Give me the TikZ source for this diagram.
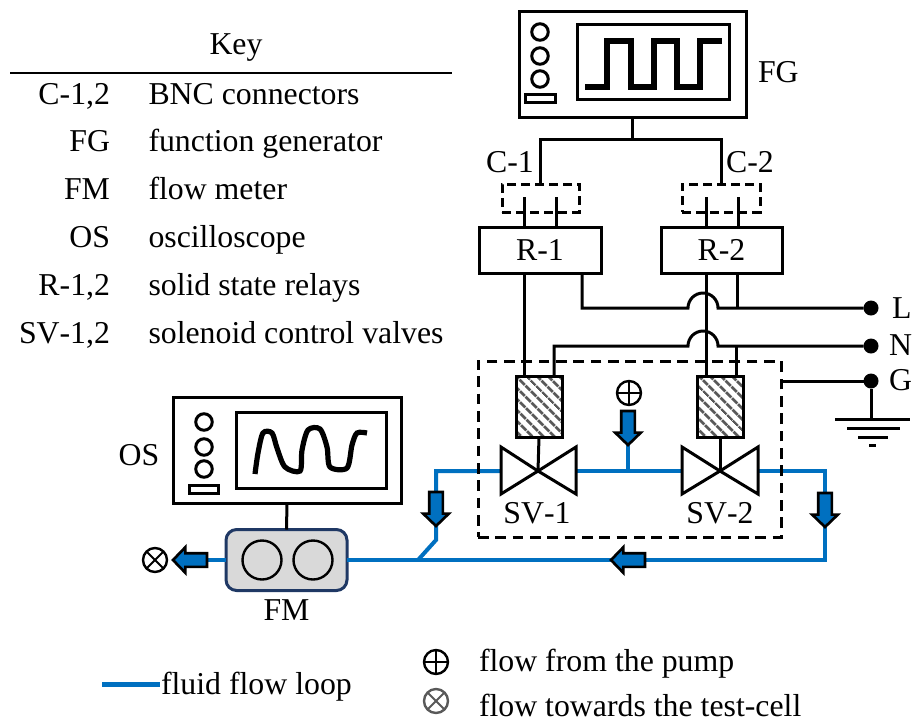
\documentclass[tikz,border=0pt]{standalone}
\usepackage{fontspec}
\setmainfont[Kerning=Off]{Liberation Serif}
\usetikzlibrary{positioning,calc}
\usetikzlibrary{shapes.arrows}
\usetikzlibrary{patterns.meta}
\definecolor{flowblue}{HTML}{0070C0}
\definecolor{fmedge}{HTML}{1F3864}
\definecolor{fmfill}{HTML}{D9D9D9}
\tikzset{
   every node/.style={font=\fontsize{23.85}{28}\selectfont,inner sep=0pt,outer sep=0pt},
   sized/.style 2 args={minimum width=#1*0.75pt,minimum height=#2*0.75pt},
   wire/.style={line width=2.25pt},
   box/.style={draw,line width=2.25pt},
   dashbox/.style={draw,line width=2.25pt,dash pattern=on 6.5pt off 4pt},
   knob/.style={circle,draw,line width=2.25pt,minimum size=16.5*0.75pt},
   trace/.style={line width=3.9pt},
   dot/.style={circle,fill=black,minimum size=15*0.75pt},
   flow/.style={line width=3pt,flowblue},
   flowarrow/.style={single arrow,draw=black,fill=flowblue,line width=2pt,
      inner ysep=5.5*0.75pt,minimum height=34*0.75pt,
      single arrow head extend=6*0.75pt,single arrow tip angle=92},
   coil/.style={box,pattern={Lines[angle=-45,distance=6.5pt,line width=2.4pt]},pattern color=black!65},
   valve/.style={draw,fill=white,line width=2.25pt,line join=miter},
   plussym/.style={circle,draw,line width=1.8pt,minimum size=24*0.75pt,path picture={
      \draw[line width=1.5pt] (path picture bounding box.north) -- (path picture bounding box.south);
      \draw[line width=1.5pt] (path picture bounding box.west) -- (path picture bounding box.east);}},
   crosssym/.style={circle,draw,line width=1.8pt,minimum size=24*0.75pt,path picture={
      \draw[line width=1.5pt] (path picture bounding box.north west) -- (path picture bounding box.south east);
      \draw[line width=1.5pt] (path picture bounding box.north east) -- (path picture bounding box.south west);}},
}
\begin{document}
\begin{tikzpicture}[x=0.75pt,y=-0.75pt]
   \useasboundingbox (0,0) rectangle (912,722);

   % key
   \node[anchor=base] (keyhead) at (236,54) {Key};
   \coordinate (keyl) at (10,73);
   \coordinate (keyr) at (452,73);
   \draw[line width=1.5pt] (keyl) -- (keyr);

   \node[anchor=base east] (k1)  at (110,104) {C-1,2};
   \node[anchor=base east] (k2)  at (110,151) {FG};
   \node[anchor=base east] (k3)  at (110,199) {FM};
   \node[anchor=base east] (k4)  at (110,247) {OS};
   \node[anchor=base east] (k5)  at (110,295) {R-1,2};
   \node[anchor=base east] (k6)  at (110,343) {SV-1,2};
   \node[anchor=base west] (t1)  at (148.5,104) {BNC connectors};
   \node[anchor=base west] (t2)  at (148.5,151) {function generator};
   \node[anchor=base west] (t3)  at (148.5,199) {flow meter};
   \node[anchor=base west] (t4)  at (148.5,247) {oscilloscope};
   \node[anchor=base west] (t5)  at (148.5,295) {solid state relays};
   \node[anchor=base west] (t6)  at (148.5,343) {solenoid control valves};

   % function generator
   \node[box,sized={227}{106}] (fg) at (632.5,64) {};
   \node[box,sized={152}{75}] (fgscreen) at (653,61.5) {};
   \node[knob] (fgk1) at (540,32) {};
   \node[knob] (fgk2) at (540,56) {};
   \node[knob] (fgk3) at (540,79) {};
   \node[box,sized={30}{8}] (fgbar) at (540,98) {};
   \draw[trace] (585,87) -- (607,87) -- (607,41) -- (631,41) -- (631,87) -- (654,87)
      -- (654,41) -- (677,41) -- (677,87) -- (700,87) -- (700,41) -- (722,41);
   \node[right=9pt of fg,yshift=-6pt] (fglab) {FG};

   % connectors and relays
   \node[dashbox,sized={77}{28}] (c1) at (540.5,198) {};
   \node[dashbox,sized={78}{28}] (c2) at (721,198) {};
   \node[box,sized={122}{46}] (r1) at (540,250) {R-1};
   \node[box,sized={121}{46}] (r2) at (721.5,250) {R-2};
   \node (c1lab) at (510,162) {C-1};
   \node (c2lab) at (750,162) {C-2};

   \coordinate (fgsplit) at (fg.south |- 0,139);
   \draw[wire] (fg.south) -- (fgsplit);
   \draw[wire] (c1.north) -- (c1.north |- fgsplit) -- (c2.north |- fgsplit) -- (c2.north);

   \coordinate (c1a) at (524,197);
   \coordinate (c1b) at (556,197);
   \coordinate (c2a) at (706,197);
   \coordinate (c2b) at (738,197);
   \draw[wire] (c1a) -- (c1a |- r1.north);
   \draw[wire] (c1b) -- (c1b |- r1.north);
   \draw[wire] (c2a) -- (c2a |- r2.north);
   \draw[wire] (c2b) -- (c2b |- r2.north);

   % mains
   \node[dot] (ldot) at (871,308) {};
   \node[dot] (ndot) at (871,346) {};
   \node[dot] (gdot) at (871,381) {};
   \node[anchor=west] (llab) at (892,308) {L};
   \node[anchor=west] (nlab) at (889,345) {N};
   \node[anchor=west] (glab) at (889,380) {G};

   % valve box
   \node[coil,sized={46}{61}] (coil1) at (539,406.5) {};
   \node[coil,sized={46}{61}] (coil2) at (720,406.5) {};

   \coordinate (ljumpa) at (688,308);
   \coordinate (ljumpb) at (718,308);
   \coordinate (njumpa) at (688,346);
   \coordinate (njumpb) at (718,346);
   \coordinate (r1out) at (582,273);
   \coordinate (r2out) at (737,273);
   \coordinate (coil1n) at (554,376);
   \coordinate (coil2n) at (736,376);

   \draw[wire] (r1out) -- (r1out |- ljumpa) -- (ljumpa)
      arc[start angle=180,end angle=0,radius=11.25pt] -- (ldot);
   \draw[wire] (r2out) -- (r2out |- ldot);
   \draw[wire] (coil1n) -- (coil1n |- njumpa) -- (njumpa)
      arc[start angle=180,end angle=0,radius=11.25pt] -- (ndot);
   \draw[wire] (coil2n) -- (coil2n |- ndot);
   \draw[wire] (c1a |- r1.south) -- (c1a |- coil1.north);
   \draw[wire] (c2a |- r2.south) -- (c2a |- coil2.north);

   % fluid loop
   \coordinate (sv1) at (538,471);
   \coordinate (sv2) at (720,471);
   \coordinate (ltop) at (436,471);
   \coordinate (lbend) at (436,540);
   \coordinate (ljoin) at (418,560);
   \coordinate (rtop) at (825,471);
   \coordinate (rbot) at (825,560);
   \coordinate (tee) at (628,471);
   \node[box,draw=fmedge,fill=fmfill,rounded corners=8pt,sized={121}{61}] (fm) at (286.5,560) {};
   \draw[flow] (sv1) -- (ltop) -- (lbend) -- (ljoin);
   \draw[flow] (sv1) -- (sv2) -- (rtop) -- (rbot) -- (fm.east);
   \draw[flow] (tee) -- ++(0,-28);
   \draw[flow] (fm.west) -- ++(-20,0);

   % valves
   \draw[valve] (sv1) -- ++(-37,-24) -- ++(0,47) -- cycle;
   \draw[valve] (sv1) -- ++(38,-24) -- ++(0,47) -- cycle;
   \draw[valve] (sv2) -- ++(-38,-24) -- ++(0,47) -- cycle;
   \draw[valve] (sv2) -- ++(38,-24) -- ++(0,47) -- cycle;
   \draw[wire] (coil1.south) -- (sv1);
   \draw[wire] (coil2.south) -- (sv2);
   \node (sv1lab) at (537,513) {SV-1};
   \node (sv2lab) at (720,513) {SV-2};

   \node[dashbox,dash pattern=on 8pt off 5pt,sized={303}{176}] (vbox) at (629.5,449) {};
   \draw[wire] (vbox.east |- gdot) -- (gdot);

   % ground
   \coordinate (gnd) at (871,419);
   \draw[wire] (gdot) -- (gnd);
   \draw[wire] (gnd) ++(-36,0) -- ++(75,0);
   \draw[wire] (gnd) ++(-24,9) -- ++(53,0);
   \draw[wire] (gnd) ++(-13,18) -- ++(30,0);
   \draw[wire] (gnd) ++(-2,26) -- ++(7,0);

   % flow arrows
   \node[flowarrow,rotate=-90,anchor=tip] (a1) at (628,445) {};
   \node[flowarrow,rotate=-90,anchor=tip] (a2) at (436,526) {};
   \node[flowarrow,rotate=-90,anchor=tip] (a3) at (825,527) {};
   \node[flowarrow,rotate=180,anchor=tip] (a4) at (611,560) {};
   \node[flowarrow,rotate=180,anchor=tip] (a5) at (173,560) {};
   \node[plussym] (pin) at (629,393) {};
   \node[crosssym] (pout) at (155,560) {};

   % flow meter
   \node[circle,draw,line width=1.8pt,minimum size=39*0.75pt] (fmc1) at (262,560) {};
   \node[circle,draw,line width=1.8pt,minimum size=39*0.75pt] (fmc2) at (313,560) {};
   \node[below=7pt of fm] (fmlab) {FM};

   % oscilloscope
   \node[box,sized={228}{106}] (os) at (287,450) {};
   \node[box,sized={150}{76}] (osscreen) at (311,450) {};
   \node[knob] (osk1) at (204,422) {};
   \node[knob] (osk2) at (204,447) {};
   \node[knob] (osk3) at (204,469) {};
   \node[box,sized={29}{8}] (osbar) at (203.5,489) {};
   \draw[trace] plot[smooth,tension=0.5] coordinates {(255,474) (258,453) (263,433) (272,433)
      (277,448) (285,467) (300,471) (302,450) (308,430) (320,429) (327,447) (330,467)
      (347,468) (352,445) (357,433) (367,433)};
   \node (oslab) at (139,455) {OS};
   \draw[wire] (os.south) -- (fm.north);

   % legend
   \coordinate (lega) at (102,684);
   \coordinate (legb) at (160,684);
   \draw[line width=3.75pt,flowblue] (lega) -- (legb);
   \node[anchor=base west] (legflow) at (161,694) {fluid flow loop};
   \node[plussym] (legplus) at (436,662) {};
   \node[crosssym,draw=black!65] (legcross) at (436,701) {};
   \node[anchor=base west] (legpump) at (479,671) {flow from the pump};
   \node[anchor=base west] (legcell) at (479,716) {flow towards the test-cell};
\end{tikzpicture}
\end{document}
